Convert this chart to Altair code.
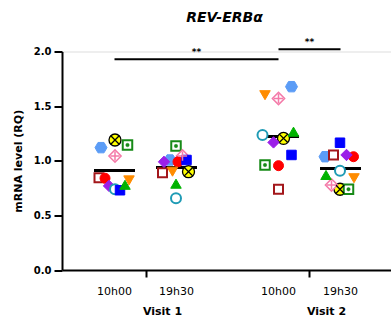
import altair as alt
import pandas as pd

# ---- data -------------------------------------------------------------
subjects = ["P01", "P02", "P03", "P04", "P05", "P06",
            "P07", "P08", "P09", "P10", "P11"]
groups = ["V1 10h00", "V1 19h30", "V2 10h00", "V2 19h30"]
time_labels = ["10h00", "19h30", "10h00", "19h30"]
visit_labels = ["Visit 1", "Visit 2"]
chart_title = ["REV-ERBα"]

# REV-ERBa relative expression (RQ), one value per subject, subject order
v1_am = [1.19, 1.144, 1.12, 1.043, 0.845, 0.84, 0.77, 0.74, 0.73, 0.78, 0.82]
v1_pm = [0.90, 1.135, 1.007, 1.043, 0.89, 0.99, 0.99, 0.656, 1.007, 0.79, 0.90]
v2_am = [1.205, 0.961, 1.678, 1.57, 0.74, 0.955, 1.168, 1.236, 1.053, 1.266, 1.60]
v2_pm = [0.739, 0.739, 1.037, 0.778, 1.053, 1.037, 1.053, 0.909, 1.165, 0.87, 0.84]
values = [v1_am, v1_pm, v2_am, v2_pm]

# significance brackets between columns
sig_from = ["V1 10h00", "V2 10h00"]
sig_to = ["V2 10h00", "V2 19h30"]
sig_level = [1.93, 2.02]
sig_text = ["**", "**"]

# ---- layout -----------------------------------------------------------
W, H = 329, 218.5
col_center = {"V1 10h00": 52.5, "V1 19h30": 114.5,
              "V2 10h00": 216.5, "V2 19h30": 278.5}
visit_center = [83.5, 247.5]
half_bar = 20.5
# horizontal scatter of the symbols inside each column
spread = [
    [0.5, 13, -13.5, 0.5, -15.5, -9.5, -5.5, 0.5, 5.5, 10.5, 14.5],
    [12, -0.5, -6.5, 6, -14, 1.5, -12.5, -0.5, 10, -0.5, -4],
    [5, -13.5, 13, 0, 0, 0, -5, -16, 13, 15, -13.5],
    [-0.5, 8, -15.5, -9, -7, 13, 6, -0.5, -0.5, -14.5, 13.5],
]

HEX = "M-1,0L-0.5,-0.866L0.5,-0.866L1,0L0.5,0.866L-0.5,0.866Z"
XMARK = "M-0.7,-0.7L0.7,0.7M-0.7,0.7L0.7,-0.7"
PLUS = "M0,-0.75L0,0.75M-0.75,0L0.75,0"

marker = [
    dict(shape="circle", fill="#FFFF00", stroke="black", strokeWidth=1.3, size=144),
    dict(shape="square", fill="white", stroke="#178A17", strokeWidth=2, size=90),
    dict(shape=HEX, fill="#5B9CF6", stroke="#5B9CF6", strokeWidth=1, size=144),
    dict(shape="diamond", fill="white", stroke="#F47AA8", strokeWidth=1.5, size=150),
    dict(shape="square", fill="white", stroke="#A3171B", strokeWidth=2, size=81),
    dict(shape="circle", fill="#FF0000", stroke="#FF0000", strokeWidth=1, size=100),
    dict(shape="diamond", fill="#9B1FE8", stroke="#9B1FE8", strokeWidth=1, size=130),
    dict(shape="circle", fill="white", stroke="#1F9BB5", strokeWidth=2, size=100),
    dict(shape="square", fill="#0000FF", stroke="#0000FF", strokeWidth=1, size=90),
    dict(shape="triangle-up", fill="#00B300", stroke="#00B300", strokeWidth=1, size=110),
    dict(shape="triangle-down", fill="#FF8C00", stroke="#FF8C00", strokeWidth=1, size=110),
]

rows = []
for g, vals, offs in zip(groups, values, spread):
    for s, v, o in zip(subjects, vals, offs):
        rows.append({"subject": s, "group": g, "value": v,
                     "center": col_center[g], "x": col_center[g] + o})
df = pd.DataFrame(rows)

sig_df = pd.DataFrame({
    "x1": [col_center[a] for a in sig_from],
    "x2": [col_center[b] for b in sig_to],
    "y": sig_level,
    "label": sig_text,
})
sig_df["xm"] = (sig_df["x1"] + sig_df["x2"]) / 2

time_df = pd.DataFrame({"x": [col_center[g] for g in groups], "label": time_labels})
visit_df = pd.DataFrame({"x": [c + 17 for c in visit_center], "label": visit_labels})
title_df = pd.DataFrame({"label": chart_title})

FONT = "DejaVu Sans"

xscale = alt.Scale(domain=[0, W])
yscale = alt.Scale(domain=[0, 2])

base = alt.Chart(df)

# axes carrier (invisible points) so both axes are drawn once
axes = base.mark_point(opacity=0).encode(
    x=alt.X("x:Q", scale=xscale,
            axis=alt.Axis(values=visit_center, labels=False, title=None, grid=False,
                          domainColor="black", domainWidth=2, tickColor="black",
                          tickWidth=2, tickSize=7)),
    y=alt.Y("value:Q", scale=yscale,
            axis=alt.Axis(values=[0, 0.5, 1.0, 1.5, 2.0], format=".1f", grid=False,
                          title="mRNA level (RQ)", titleFont=FONT, titleFontSize=11,
                          titleFontWeight="bold", titleColor="black", titlePadding=10,
                          labelFont=FONT, labelFontSize=10, labelFontWeight="bold",
                          labelColor="black", labelPadding=3,
                          domainColor="black", domainWidth=2, tickColor="black",
                          tickWidth=2, tickSize=8)),
)

layers = [axes]

# mean of each column
layers.append(
    base.transform_aggregate(mean="mean(value)", groupby=["group", "center"])
    .transform_calculate(xa=f"datum.center - {half_bar}", xb=f"datum.center + {half_bar}")
    .mark_rule(color="black", strokeWidth=3)
    .encode(x=alt.X("xa:Q", scale=xscale), x2="xb:Q", y=alt.Y("mean:Q", scale=yscale))
)

# one symbol style per subject
for s, m in zip(subjects, marker):
    layers.append(
        base.transform_filter(alt.datum.subject == s)
        .mark_point(filled=False, opacity=1, **m)
        .encode(x=alt.X("x:Q", scale=xscale), y=alt.Y("value:Q", scale=yscale))
    )

# inner details of the compound symbols
details = [
    (subjects[0], dict(shape=XMARK, stroke="black", strokeWidth=1.3, size=144)),
    (subjects[1], dict(shape="circle", fill="#178A17", stroke="#178A17", strokeWidth=0.5, size=12)),
    (subjects[3], dict(shape=PLUS, stroke="#F47AA8", strokeWidth=1.5, size=150)),
]
for s, m in details:
    layers.append(
        base.transform_filter(alt.datum.subject == s)
        .mark_point(opacity=1, **m)
        .encode(x=alt.X("x:Q", scale=xscale), y=alt.Y("value:Q", scale=yscale))
    )

# significance brackets
sig = alt.Chart(sig_df)
layers.append(
    sig.mark_rule(color="black", strokeWidth=2)
    .encode(x=alt.X("x1:Q", scale=xscale), x2="x2:Q", y=alt.Y("y:Q", scale=yscale))
)
layers.append(
    sig.mark_text(font=FONT, fontSize=9, fontWeight="bold", color="black", dy=-7)
    .encode(x=alt.X("xm:Q", scale=xscale), y=alt.Y("y:Q", scale=yscale), text="label:N")
)

# category labels under the axis
layers.append(
    alt.Chart(time_df).mark_text(font=FONT, fontSize=11, color="black", baseline="middle")
    .encode(x=alt.X("x:Q", scale=xscale), y=alt.value(H + 22), text="label:N")
)
layers.append(
    alt.Chart(visit_df).mark_text(font=FONT, fontSize=11, fontWeight="bold", color="black",
                                  baseline="middle")
    .encode(x=alt.X("x:Q", scale=xscale), y=alt.value(H + 42), text="label:N")
)

# chart heading above the plot
layers.append(
    alt.Chart(title_df).mark_text(font=FONT, fontSize=14, fontWeight="bold",
                                  fontStyle="italic", color="black", baseline="middle")
    .encode(x=alt.value(W / 2 - 2), y=alt.value(-33.5), text="label:N")
)

chart = (
    alt.layer(*layers)
    .properties(
        width=W, height=H,
        autosize=alt.AutoSizeParams(type="none"),
        padding={"left": 62, "top": 51.5, "right": 0, "bottom": 51},
    )
    .configure_view(stroke=None)
    .configure(background="white")
)

chart.save("out.html", embed_options={"renderer": "svg", "actions": False})
